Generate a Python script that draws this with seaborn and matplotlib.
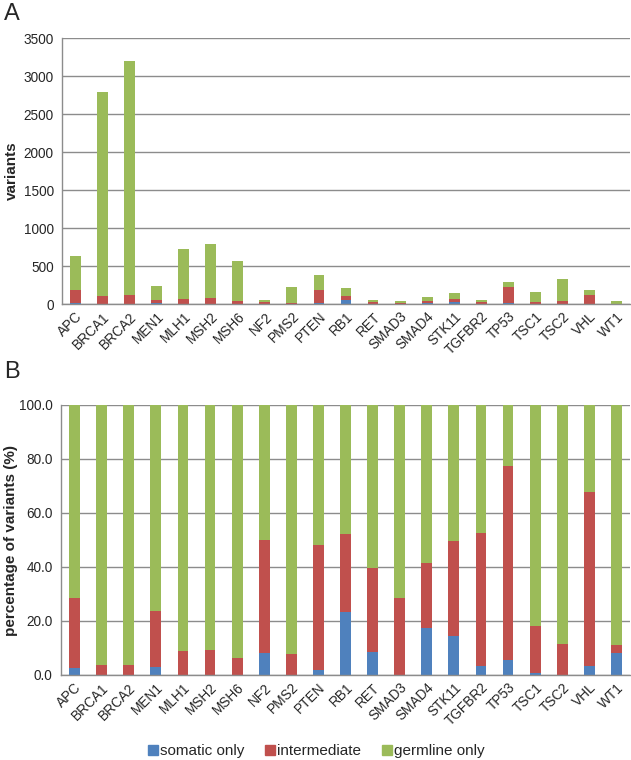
import matplotlib
matplotlib.use("Agg")
import matplotlib.pyplot as plt
import seaborn as sns
import numpy as np
import pandas as pd
from matplotlib.lines import Line2D
from matplotlib.ticker import FixedLocator, FormatStrFormatter

genes = ["APC", "BRCA1", "BRCA2", "MEN1", "MLH1", "MSH2", "MSH6", "NF2", "PMS2", "PTEN",
         "RB1", "RET", "SMAD3", "SMAD4", "STK11", "TGFBR2", "TP53", "TSC1", "TSC2", "VHL", "WT1"]
somatic = [16, 0, 0, 7, 0, 0, 0, 4, 0, 7, 49, 5, 0, 15, 21, 2, 16, 1, 0, 6, 3]
intermediate = [166, 106, 115, 50, 63, 73, 35, 20, 18, 175, 61, 18, 12, 21, 51, 28, 208, 27, 38, 119, 1]
germline = [454, 2683, 3087, 184, 656, 712, 535, 24, 210, 195, 101, 35, 30, 51, 73, 27, 65, 126, 291, 59, 32]

series_names = ["somatic only", "intermediate", "germline only"]
colors = ["#4F81BD", "#C0504D", "#9BBB59"]

sns.set_theme(style="white")
plt.rcParams["font.family"] = ["Liberation Sans", "DejaVu Sans"]

s = np.array(somatic, float)
i = np.array(intermediate, float)
g = np.array(germline, float)
tot = s + i + g

df = pd.DataFrame({
    "gene": genes,
    "c_s": s, "c_si": s + i, "c_all": tot,
    "p_s": 100 * s / tot, "p_si": 100 * (s + i) / tot, "p_all": 100 * tot / tot,
})

fig = plt.figure(figsize=(6.31, 7.60), dpi=100)
axA = fig.add_axes([62 / 631, 1 - 304 / 760, 568 / 631, 266 / 760])
axB = fig.add_axes([61 / 631, 1 - 675 / 760, 569 / 631, 270 / 760])

grid_c = "#8C8C8C"
for ax, cols in [(axA, ["c_all", "c_si", "c_s"]), (axB, ["p_all", "p_si", "p_s"])]:
    for col, c in zip(cols, colors[::-1]):
        sns.barplot(data=df, x="gene", y=col, color=c, width=0.4, linewidth=0,
                    saturation=1, ax=ax, order=genes)
    ax.set_xlim(-0.5, len(genes) - 0.5)
    ax.yaxis.grid(True, color=grid_c, linewidth=1)
    ax.set_axisbelow(True)
    for sp in ["top", "right"]:
        ax.spines[sp].set_visible(False)
    for sp in ["left", "bottom"]:
        ax.spines[sp].set_color(grid_c)
        ax.spines[sp].set_linewidth(1)
    ax.set_xlabel("")
    ax.tick_params(axis="x", which="major", length=0, pad=4, labelsize=9.8)
    ax.xaxis.set_minor_locator(FixedLocator(np.arange(-0.5, len(genes), 1.0)))
    ax.tick_params(axis="x", which="minor", length=4, color=grid_c, width=1, direction="out")
    ax.tick_params(axis="y", length=4, color=grid_c, width=1, labelsize=9.8, pad=2, direction="out")
    plt.setp(ax.get_xticklabels(), rotation=45, ha="right", rotation_mode="anchor")

axA.set_ylim(0, 3500)
axA.set_yticks(np.arange(0, 3501, 500))
axA.set_ylabel("variants", fontsize=11, fontweight="bold", labelpad=3)

axB.set_ylim(0, 100)
axB.set_yticks(np.arange(0, 101, 20))
axB.yaxis.set_major_formatter(FormatStrFormatter("%.1f"))
axB.set_ylabel("percentage of variants (%)", fontsize=11, fontweight="bold", labelpad=1)

fig.text(4 / 631, 1 - 14 / 760, "A", fontsize=17, va="center", ha="left")
fig.text(4 / 631, 1 - 372 / 760, "B", fontsize=17, va="center", ha="left")

handles = [Line2D([], [], marker="s", linestyle="", markersize=6.5, color=c) for c in colors]
fig.legend(handles, series_names, loc="center", bbox_to_anchor=(316 / 631, 1 - 751 / 760),
           ncol=3, frameon=False, fontsize=11, handletextpad=0.05, columnspacing=1.3,
           handlelength=0.8)

fig.savefig("out.png", dpi=100)
